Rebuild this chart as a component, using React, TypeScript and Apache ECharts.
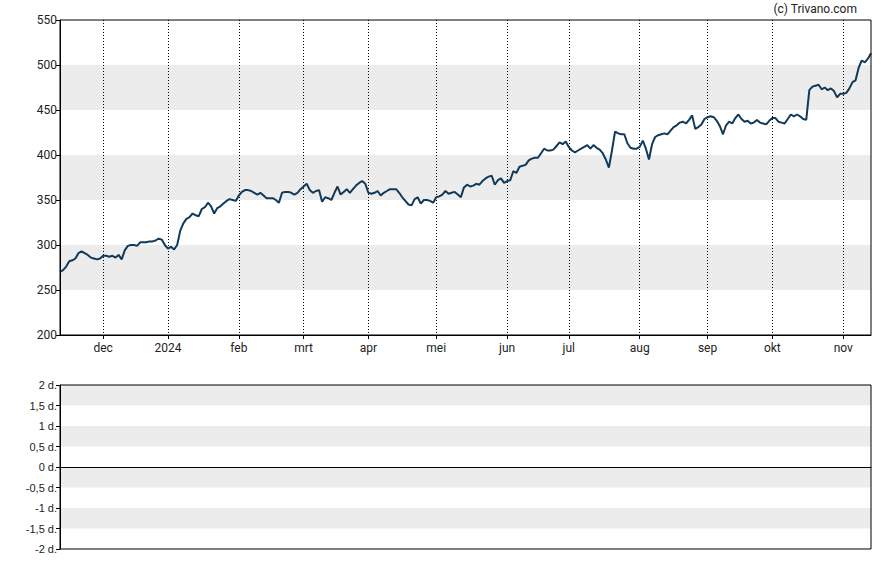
import React, { useEffect, useRef } from "react";
import * as echarts from "echarts";

// Closing prices, one per weekday, from 13 Nov 2023 to 14 Nov 2024
const closes2023 = [
  270, 272, 276, 282, 283, 285, 291, 293, 291, 289,
  286, 285, 284, 285, 288, 288, 287, 288, 286, 289,
  284, 294, 299, 300, 300, 299, 303, 303, 303, 304,
  304, 305, 307, 306, 300,
];
const closesQ1 = [
  296, 298, 295, 300, 316,
  324, 329, 331, 335, 333, 332, 340, 342, 347, 343,
  335, 341, 343, 346, 349, 351, 350, 349, 355, 359,
  361, 361, 360, 358, 356, 358, 355, 352, 352, 352,
  350, 347, 358, 359, 359, 358, 356, 358, 362, 365,
  368, 361, 358, 360, 361, 348, 353, 352, 350, 358,
  365, 356, 359, 362, 358, 362, 366, 369, 371, 368,
];
const closesQ2 = [
  358, 357, 358, 360, 355, 358, 360, 362, 362, 362,
  358, 353, 349, 345, 344, 351, 353, 346, 350, 350,
  349, 347, 353, 354, 356, 360, 357, 358, 359, 356,
  353, 364, 367, 365, 366, 368, 367, 371, 374, 376,
  377, 367, 372, 374, 369, 371, 372, 382, 380, 387,
  388, 389, 394, 396, 397, 397, 402, 407, 405, 405,
  406, 410, 414, 412, 415,
];
const closesQ3 = [
  409, 405, 403, 405, 407,
  409, 411, 407, 411, 408, 406, 402, 395, 386, 405,
  426, 424, 423, 423, 413, 408, 407, 407, 409, 416,
  407, 395, 412, 420, 422, 423, 424, 423, 427, 431,
  433, 436, 437, 435, 439, 444, 429, 431, 434, 440,
  442, 443, 442, 438, 432, 423, 433, 437, 435, 441,
  445, 440, 437, 438, 435, 436, 439, 436, 435, 434,
  438,
];
const closesQ4 = [
  441, 441, 437, 436, 435, 440, 445, 443, 445,
  443, 440, 439, 472, 476, 477, 478, 473, 475, 472,
  474, 471, 464, 468, 468, 469, 474, 481, 483, 497,
  505, 503, 507, 513,
];

const startDate = "2023-11-13";
const endDate = "2024-11-14";
const monthNames = ["2024", "feb", "mrt", "apr", "mei", "jun", "jul", "aug", "sep", "okt", "nov", "dec"];
const priceTicks = [200, 550, 50];
const dividendTicks = [-2, 2, 0.5];

function weekdays(from: string, to: string): string[] {
  const out: string[] = [];
  const d = new Date(from + "T00:00:00Z");
  const end = new Date(to + "T00:00:00Z");
  while (d.getTime() <= end.getTime()) {
    const wd = d.getUTCDay();
    if (wd !== 0 && wd !== 6) out.push(d.toISOString().slice(0, 10));
    d.setUTCDate(d.getUTCDate() + 1);
  }
  return out;
}

export default function App() {
  const ref = useRef<HTMLDivElement>(null);
  useEffect(() => {
    document.body.style.margin = "0";
    if (!ref.current) return;
    const chart = echarts.init(ref.current, undefined, { renderer: "svg" });
    const dates = weekdays(startDate, endDate);
    const closes = [...closes2023, ...closesQ1, ...closesQ2, ...closesQ3, ...closesQ4];
    const isMonthStart = (i: number) =>
      i > 0 && dates[i].slice(5, 7) !== dates[i - 1].slice(5, 7);
    const monthLabel = (v: string) => {
      const m = parseInt(v.slice(5, 7), 10);
      return monthNames[m - 1];
    };
    const font = "Roboto, 'Liberation Sans', Arial, sans-serif";
    const option: any = {
      animation: false,
      backgroundColor: "#fff",
      graphic: [
        {
          type: "text",
          x: 857,
          y: 9,
          style: {
            text: "(c) Trivano.com",
            align: "right",
            verticalAlign: "middle",
            fill: "#222",
            font: "12px " + font,
          },
        },
      ],
      grid: [
        { left: 60, right: 17, top: 20, height: 315, show: true, borderColor: "#000", borderWidth: 1, backgroundColor: "transparent", z: 10 },
        { left: 60, right: 17, top: 385, height: 164, show: true, borderColor: "#000", borderWidth: 1, backgroundColor: "transparent", z: 10 },
      ],
      xAxis: [
        {
          type: "category",
          gridIndex: 0,
          data: dates,
          boundaryGap: false,
          axisLine: { show: true, onZero: false, lineStyle: { color: "#000", width: 1 } },
          axisTick: { show: true, length: 4, lineStyle: { color: "#000" }, interval: (i: number) => isMonthStart(i) },
          axisLabel: {
            show: true,
            interval: (i: number) => isMonthStart(i),
            formatter: (v: string) => monthLabel(v),
            color: "#222",
            fontSize: 12,
            fontFamily: font,
            margin: 7,
          },
          splitLine: {
            show: true,
            interval: (i: number) => isMonthStart(i),
            lineStyle: { color: "#000", type: [1, 2], width: 1 },
          },
        },
        {
          type: "category",
          gridIndex: 1,
          data: dates,
          boundaryGap: false,
          axisLine: { show: true, onZero: true, lineStyle: { color: "#000", width: 1 } },
          axisTick: { show: false },
          axisLabel: { show: false },
          splitLine: { show: false },
        },
      ],
      yAxis: [
        {
          type: "value",
          gridIndex: 0,
          min: priceTicks[0],
          max: priceTicks[1],
          interval: priceTicks[2],
          axisLine: { show: true, lineStyle: { color: "#000", width: 1 } },
          axisTick: { show: true, length: 4, lineStyle: { color: "#000" } },
          axisLabel: { color: "#222", fontSize: 12, fontFamily: font, margin: 3 },
          splitLine: { show: false },
          splitArea: { show: true, areaStyle: { color: ["#ffffff", "#ececec"] } },
        },
        {
          type: "value",
          gridIndex: 1,
          min: dividendTicks[0],
          max: dividendTicks[1],
          interval: dividendTicks[2],
          axisLine: { show: true, lineStyle: { color: "#000", width: 1 } },
          axisTick: { show: true, length: 4, lineStyle: { color: "#000" } },
          axisLabel: {
            color: "#222",
            fontSize: 11,
            fontFamily: "'Liberation Sans', Arial, sans-serif",
            margin: 3,
            formatter: (v: number) => String(v).replace(".", ",") + " d.",
          },
          splitLine: { show: false },
          splitArea: { show: true, areaStyle: { color: ["#ffffff", "#ececec"] } },
        },
      ],
      series: [
        {
          type: "line",
          xAxisIndex: 0,
          yAxisIndex: 0,
          data: closes,
          symbol: "none",
          showSymbol: false,
          lineStyle: { color: "#113a5a", width: 2 },
          z: 5,
        },
        {
          type: "line",
          xAxisIndex: 1,
          yAxisIndex: 1,
          data: [],
          symbol: "none",
        },
      ],
    };
    chart.setOption(option);
    return () => chart.dispose();
  }, []);
  return <div ref={ref} style={{ width: 888, height: 565 }} />;
}
